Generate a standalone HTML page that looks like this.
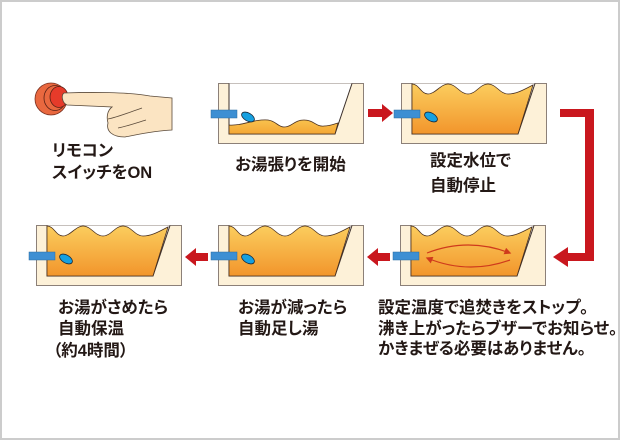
<!DOCTYPE html>
<html><head><meta charset="utf-8">
<style>
html,body{margin:0;padding:0;background:#fff;}
svg{display:block;}
text{font-family:"Liberation Sans","Noto Sans CJK JP",sans-serif;font-weight:700;font-size:16.5px;fill:#231815;font-feature-settings:"palt";}
</style></head>
<body>
<svg width="620" height="440" viewBox="0 0 620 440" xmlns="http://www.w3.org/2000/svg">
<defs>
  <linearGradient id="wg" x1="0" y1="0" x2="0" y2="1">
    <stop offset="0" stop-color="#fbcd5e"/>
    <stop offset="1" stop-color="#f2952b"/>
  </linearGradient>
  <linearGradient id="wg2" x1="0" y1="0" x2="0" y2="1">
    <stop offset="0" stop-color="#f9c24e"/>
    <stop offset="1" stop-color="#f4a634"/>
  </linearGradient>
  <marker id="ah" viewBox="0 0 10 10" refX="8" refY="5" markerWidth="7" markerHeight="7" orient="auto" markerUnits="userSpaceOnUse">
    <path d="M0,0 L10,5 L0,10 Z" fill="#cf3a1c"/>
  </marker>
  <g id="frame">
    <rect x="0.5" y="0.5" width="145" height="60" fill="#fdf1d8" stroke="#8c8078" stroke-width="1"/>
    <path d="M11,0.5 V51 H117 L134,0.5" fill="#ffffff" stroke="#3b2f2a" stroke-width="1"/>
  </g>
  <g id="fullwater">
    <path d="M11,1 C18,1 20,11 27,11 C34,11 40,1 47,1 C55,1 59,11 67,11 C75,11 79,1 87,1 C95,1 99,11 107,11 C116,11 124,6 132,2 L117,51 H11 Z" fill="url(#wg)" stroke="#4a3020" stroke-width="0.8"/>
  </g>
  <g id="pipe">
    <rect x="-7" y="27" width="26" height="8" fill="#3d8fd3" stroke="#2a6aa0" stroke-width="0.5"/>
  </g>
  <g id="drop">
    <ellipse cx="30" cy="34" rx="7" ry="4" transform="rotate(30 30 34)" fill="#16a0e0" stroke="#1a2a3a" stroke-width="0.8"/>
  </g>
</defs>

<rect x="1" y="1" width="618" height="438" fill="#ffffff" stroke="#cccccc" stroke-width="2"/>

<!-- Remote button & hand -->
<circle cx="51" cy="99" r="16" fill="#e9683f" stroke="#7a3020" stroke-width="0.8"/>
<ellipse cx="55" cy="98" rx="11" ry="12.5" fill="#e9683f" stroke="#5a2015" stroke-width="0.8"/>
<ellipse cx="59" cy="97" rx="9" ry="10.5" fill="#e63b2a" stroke="#5a2015" stroke-width="0.8"/>
<path d="M64,93 C90,92 130,92 150,96 L172,98 L172,130 C155,131 140,134 125,137 C112,137 106,131 108,123 C106,116 108,110 112,107 L67,105 C62,103 61,95 64,93 Z" fill="#fbe4c2" stroke="#5a4a3a" stroke-width="0.8"/>
<path d="M108,119 C118,117 130,112 142,108" fill="none" stroke="#5a4a3a" stroke-width="0.8"/>
<path d="M118,128 C128,126 136,123 146,120" fill="none" stroke="#5a4a3a" stroke-width="0.8"/>

<text x="52" y="156">リモコン</text>
<text x="52" y="178">スイッチをON</text>

<!-- Tub 2: filling -->
<g transform="translate(218,83)">
  <use href="#frame"/>
  <path d="M11,42 C25,43 35,36 50,37 C58,38 60,44 66,44 C74,44 76,37 86,37 C96,37 98,44 106,43 C112,43 116,41 120,40 L117,51 H11 Z" fill="url(#wg2)" stroke="#4a3020" stroke-width="0.8"/>
  <use href="#pipe"/>
  <use href="#drop"/>
</g>
<text x="235" y="170">お湯張りを開始</text>

<!-- Arrow 1 -->
<polygon points="368,109 382,109 382,104 393,113 382,122 382,117 368,117" fill="#c9171e"/>

<!-- Tub 3: full -->
<g transform="translate(401,83)">
  <use href="#frame"/>
  <use href="#fullwater"/>
  <use href="#pipe"/>
  <use href="#drop"/>
</g>
<text x="430" y="166">設定水位で</text>
<text x="430" y="191">自動停止</text>

<!-- L connector -->
<path d="M560,109 H594 V261 H567 V253 H585 V117 H560 Z" fill="#c9171e"/>
<polygon points="568,247 553,257 568,267" fill="#c9171e"/>

<!-- Tub 4: reheating -->
<g transform="translate(400,225)">
  <use href="#frame"/>
  <use href="#fullwater"/>
  <use href="#pipe"/>
  <path d="M27,28 Q68,12 110,28" fill="none" stroke="#cf3a1c" stroke-width="1.2" marker-end="url(#ah)"/>
  <path d="M110,35 Q68,50 27,33" fill="none" stroke="#cf3a1c" stroke-width="1.2" marker-end="url(#ah)"/>
</g>
<text x="378" y="313">設定温度で追焚きをストップ。</text>
<text x="378" y="334">沸き上がったらブザーでお知らせ。</text>
<text x="378" y="354">かきまぜる必要はありません。</text>

<!-- Arrow 2 -->
<polygon points="390,253 378,253 378,248 367,257 378,266 378,261 390,261" fill="#c9171e"/>

<!-- Tub 5 -->
<g transform="translate(218,225)">
  <use href="#frame"/>
  <use href="#fullwater"/>
  <use href="#pipe"/>
  <use href="#drop"/>
</g>
<text x="238" y="313">お湯が減ったら</text>
<text x="238" y="334">自動足し湯</text>

<!-- Arrow 3 -->
<polygon points="208,253 196,253 196,248 185,257 196,266 196,261 208,261" fill="#c9171e"/>

<!-- Tub 6 -->
<g transform="translate(36,225)">
  <use href="#frame"/>
  <use href="#fullwater"/>
  <use href="#pipe"/>
  <use href="#drop"/>
</g>
<text x="58" y="313">お湯がさめたら</text>
<text x="58" y="334">自動保温</text>
<text x="53" y="356">（約4時間）</text>
</svg>
</body></html>
